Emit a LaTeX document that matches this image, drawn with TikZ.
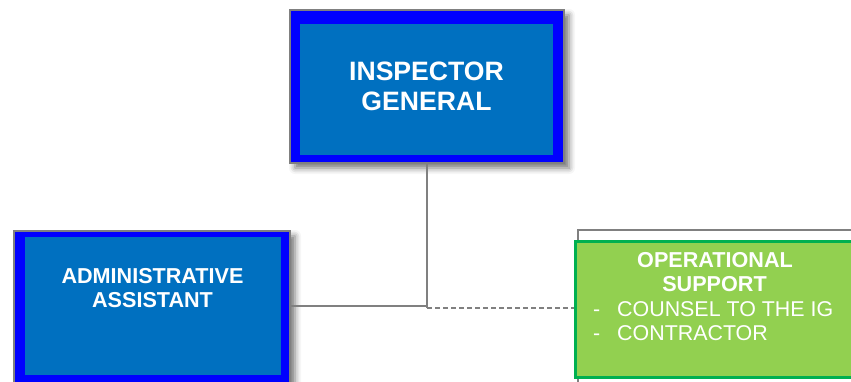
\documentclass[tikz,border=0pt]{standalone}
\usepackage{fontspec}
\setmainfont{Liberation Sans}
\usetikzlibrary{shadows.blur}
\definecolor{igblue}{HTML}{0070C0}
\definecolor{rimblue}{HTML}{0000FF}
\definecolor{edgegray}{HTML}{808080}
\definecolor{opsgreen}{HTML}{92D050}
\definecolor{opsrim}{HTML}{00B050}
\definecolor{linegray}{HTML}{808080}
\begin{document}
\begin{tikzpicture}[x=1pt,y=-1pt,
  outerbox/.style={rectangle, draw=edgegray, line width=2pt, fill=rimblue, inner sep=0pt,
    blur shadow={shadow xshift=5pt, shadow yshift=-5pt, shadow blur radius=6pt, shadow opacity=55}},
  innerbox/.style={rectangle, fill=igblue, inner sep=0pt},
  frame/.style={rectangle, draw=edgegray, line width=2pt, fill=white, inner sep=0pt},
  greenbox/.style={rectangle, draw=opsrim, line width=3pt, fill=opsgreen, inner sep=0pt},
  link/.style={draw=linegray, line width=1.6pt},
  dashlink/.style={draw=linegray, line width=1.6pt, dash pattern=on 5pt off 3pt},
  bigtxt/.style={text=white, inner sep=0pt, font=\fontsize{26.6}{30}\selectfont\bfseries},
  midtxt/.style={text=white, inner sep=0pt, font=\fontsize{21.6}{24}\selectfont\bfseries},
  listtxt/.style={text=white, inner sep=0pt, font=\fontsize{21.4}{24}\selectfont}
]
\useasboundingbox (0,0) rectangle (851,381);

% Inspector General
\node[outerbox, minimum width=274pt, minimum height=153pt] (ig) at (427,86.5) {};
\node[innerbox, minimum width=253pt, minimum height=131pt] (igin) at (426.5,89.5) {};
\node[bigtxt, anchor=base] (igt1) at (426.5,80) {INSPECTOR};
\node[bigtxt, anchor=base] (igt2) at (426.5,110) {GENERAL};

% Administrative Assistant
\node[outerbox, minimum width=276pt, minimum height=170pt] (admin) at (152,316) {};
\node[innerbox, minimum width=256pt, minimum height=138pt] (adminin) at (153,306) {};
\node[midtxt, anchor=base] (adt1) at (152.5,283) {ADMINISTRATIVE};
\node[midtxt, anchor=base] (adt2) at (152.5,307) {ASSISTANT};

% Operational support
\node[frame, minimum width=290pt, minimum height=170pt] (opsframe) at (723,315) {};
\node[greenbox, minimum width=290pt, minimum height=136pt] (ops) at (720,309) {};
\node[midtxt, anchor=base] (opt1) at (715,267) {OPERATIONAL};
\node[midtxt, anchor=base] (opt2) at (714.5,291) {SUPPORT};
\node[listtxt, anchor=base west] (d1) at (593,316) {-};
\node[listtxt, anchor=base west] (l1) at (617,316) {COUNSEL TO THE IG};
\node[listtxt, anchor=base west] (d2) at (593,340) {-};
\node[listtxt, anchor=base west] (l2) at (617,340) {CONTRACTOR};

% Connectors
\coordinate (j) at (427,306);
\coordinate (jd) at (427,308);
\draw[link] (ig.south) -- (jd);
\draw[link] (admin.east |- j) -- (j);
\draw[dashlink] (jd) -- (ops.west |- jd);
\end{tikzpicture}
\end{document}
